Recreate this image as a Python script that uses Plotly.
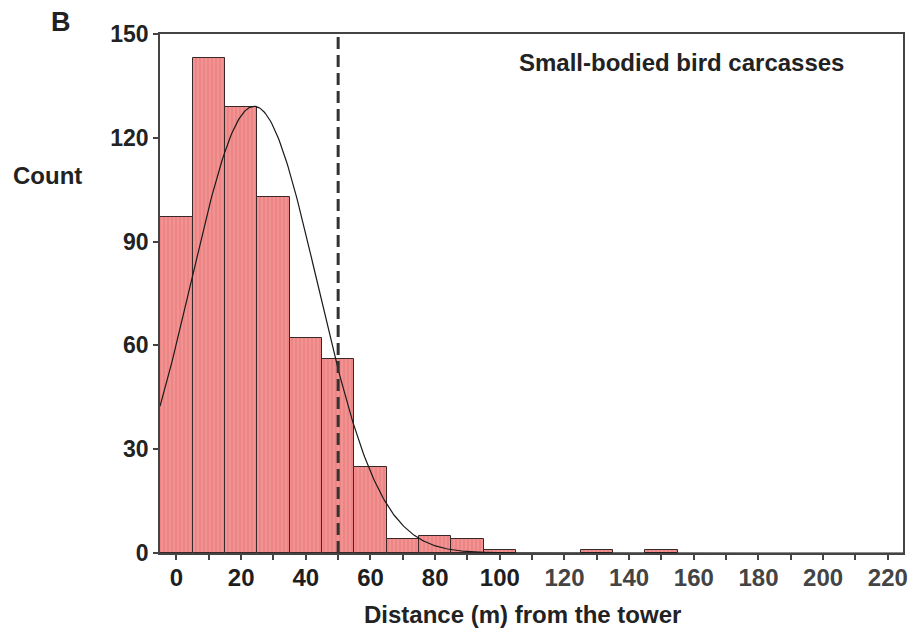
import numpy as np
import plotly.graph_objects as go

# Data
bin_centers = [0, 10, 20, 30, 40, 50, 60, 70, 80, 90, 100, 130, 150]
counts = [97, 143, 129, 103, 62, 56, 25, 4, 5, 4, 1, 1, 1]
bin_width = 10
fit_mean = 24.0
fit_sd = 19.5
threshold = 50
x_tick_vals = [0, 20, 40, 60, 80, 100, 120, 140, 160, 180, 200, 220]
y_tick_vals = [0, 30, 60, 90, 120, 150]

n_total = sum(counts)
xs = np.linspace(-5.1, 224.7, 600)
ys = n_total * bin_width / (fit_sd * np.sqrt(2 * np.pi)) * np.exp(-0.5 * ((xs - fit_mean) / fit_sd) ** 2)

FONT = "Liberation Sans, Arial, sans-serif"

fig = go.Figure()
fig.add_trace(go.Bar(
    x=bin_centers, y=counts, width=bin_width,
    marker=dict(color="#ee8585",
                line=dict(color="#3a2828", width=1),
                pattern=dict(shape="|", fgcolor="#f7b3b3", size=4, solidity=0.3)),
    showlegend=False, hoverinfo="x+y",
))
fig.add_trace(go.Scatter(x=xs, y=ys, mode="lines",
                         line=dict(color="#1a1a1a", width=1.2),
                         showlegend=False, hoverinfo="skip"))
fig.add_shape(type="line", x0=threshold, x1=threshold, y0=0, y1=150,
              xref="x", yref="y",
              line=dict(color="#333333", width=3, dash="12px,6px"))


def xlabel(v):
    col = "#1e1e1e" if v <= 100 else "#444444"
    return f"<span style='color:{col}'><b>{v}</b></span>"


fig.update_layout(
    width=915, height=638,
    margin=dict(l=160, r=7, t=34, b=85),
    paper_bgcolor="white", plot_bgcolor="white",
    font=dict(family=FONT, size=24, color="#222222"),
    bargap=0,
    annotations=[
        dict(text="<b>B</b>", x=-0.1337, y=1.023, xref="paper", yref="paper",
             showarrow=False, font=dict(size=27, color="#222222"),
             xanchor="center", yanchor="middle"),
        dict(text="<b>Count</b>", x=-0.151, y=0.728, xref="paper", yref="paper",
             showarrow=False, font=dict(size=24, color="#222222"),
             xanchor="center", yanchor="middle"),
        dict(text="<b>Distance (m) from the tower</b>", x=0.488, y=-0.119,
             xref="paper", yref="paper", showarrow=False,
             font=dict(size=24, color="#222222"),
             xanchor="center", yanchor="middle"),
        dict(text="<b>Small-bodied bird carcasses</b>", x=0.702, y=0.946,
             xref="paper", yref="paper", showarrow=False,
             font=dict(size=24, color="#222222"),
             xanchor="center", yanchor="middle"),
    ],
)
fig.update_xaxes(
    range=[-5.1, 224.7], tickvals=x_tick_vals,
    ticktext=[xlabel(v) for v in x_tick_vals],
    ticks="outside", ticklen=5, tickwidth=1.5, tickcolor="#444444",
    minor=dict(ticks="outside", dtick=10, tick0=0, ticklen=5, tickwidth=1.5, tickcolor="#444444"),
    showline=True, linecolor="#444444", linewidth=1.5, mirror=True,
    showgrid=False, zeroline=False,
    tickfont=dict(size=24, color="#222222"),
    ticklabelstandoff=-3,
)
fig.update_yaxes(
    range=[0, 150], tickvals=y_tick_vals,
    ticktext=[f"<b>{v}</b>" for v in y_tick_vals],
    ticks="outside", ticklen=5, tickwidth=1.5, tickcolor="#444444",
    showline=True, linecolor="#444444", linewidth=1.5, mirror=True,
    showgrid=False, zeroline=False,
    tickfont=dict(size=23, color="#222222"),
)

fig.write_html("out.html", config={"displayModeBar": False},
               post_script="document.body.style.margin='0';document.body.style.padding='0';")
